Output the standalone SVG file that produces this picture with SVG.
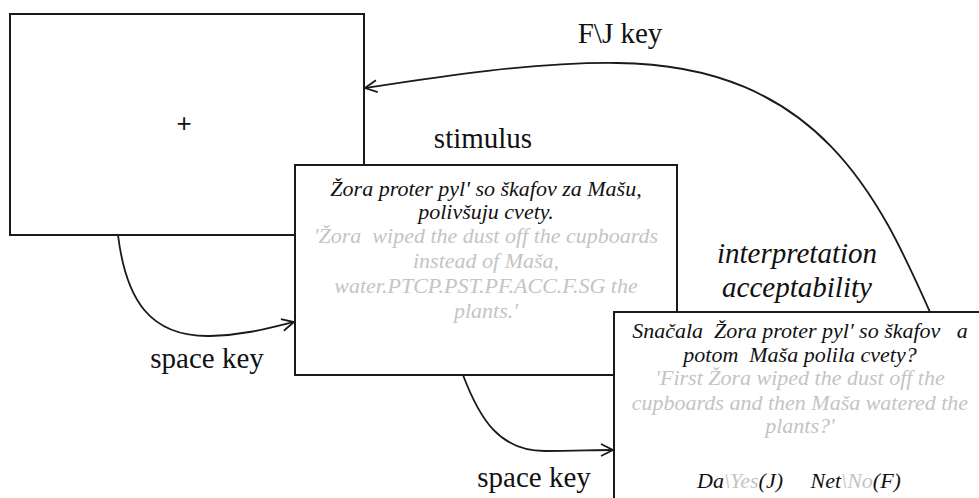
<svg xmlns="http://www.w3.org/2000/svg" width="979" height="498" viewBox="0 0 979 498">
<style>
.box{fill:#fff;stroke:#1a1a1a;stroke-width:2}
.conn{fill:none;stroke:#1a1a1a;stroke-width:1.8}
.lbl{font-size:29px;fill:#111}
.it{font-style:italic}
.t{font-size:22px;font-style:italic;fill:#111;text-anchor:middle}
.g{fill:#c4c4c4}
text{font-family:'Times New Roman','Liberation Serif',Tinos,'DejaVu Serif','Noto Serif',FreeSerif,serif}
</style>
<defs>
<marker id="arr" markerUnits="userSpaceOnUse" markerWidth="16" markerHeight="16" viewBox="0 0 16 16" refX="14" refY="8" orient="auto">
<path d="M2,2 L14,8 L2,14" fill="none" stroke="#1a1a1a" stroke-width="1.8"/>
</marker>
</defs>
<rect width="979" height="498" fill="#fff"/>
<g id="fixation">
<rect class="box" x="10" y="14" width="354" height="221"/>
<text x="184" y="132" style="font-family:'Liberation Sans',Arial,sans-serif" font-size="26" fill="#111" text-anchor="middle">+</text>
</g>
<g id="stimulus">
<rect class="box" x="295" y="165" width="382" height="210"/>
<text class="t" x="486" y="196">Žora proter pyl' so škafov za Mašu,</text>
<text class="t" x="486" y="219">polivšuju cvety.</text>
<text class="t g" x="486" y="243" xml:space="preserve">'Žora  wiped the dust off the cupboards</text>
<text class="t g" x="486" y="268">instead of Maša,</text>
<text class="t g" x="486" y="293">water.PTCP.PST.PF.ACC.F.SG the</text>
<text class="t g" x="486" y="318">plants.'</text>
</g>
<g id="question">
<rect class="box" x="614" y="312" width="380" height="200"/>
<text class="t" x="800" y="338" xml:space="preserve">Snačala  Žora proter pyl' so škafov   a</text>
<text class="t" x="800" y="362" xml:space="preserve">potom  Maša polila cvety?</text>
<text class="t g" x="800" y="385">'First Žora wiped the dust off the</text>
<text class="t g" x="800" y="410">cupboards and then Maša watered the</text>
<text class="t g" x="800" y="433">plants?'</text>
<text class="t" x="799" y="488" xml:space="preserve">Da<tspan class="g">\Yes</tspan>(J)     Net<tspan class="g">\No</tspan>(F)</text>
</g>
<g id="connectors">
<path class="conn" d="M118,235 C126,300 150,337 210,336 C245,335 270,328 294,322" marker-end="url(#arr)"/>
<path class="conn" d="M463,375 C480,420 500,451 545,451 C572,451 595,450 613,450" marker-end="url(#arr)"/>
<path class="conn" d="M930,312 C880,200 820,65 617,63 C530,62 430,78 365,88" marker-end="url(#arr)"/>
</g>
<g id="labels">
<text class="lbl" x="620" y="43" text-anchor="middle">F\J key</text>
<text class="lbl" x="483" y="148" text-anchor="middle">stimulus</text>
<text class="lbl it" x="797" y="263" text-anchor="middle">interpretation</text>
<text class="lbl it" x="797" y="297" text-anchor="middle">acceptability</text>
<text class="lbl" x="207" y="368" text-anchor="middle">space key</text>
<text class="lbl" x="534" y="487" text-anchor="middle">space key</text>
</g>
</svg>
